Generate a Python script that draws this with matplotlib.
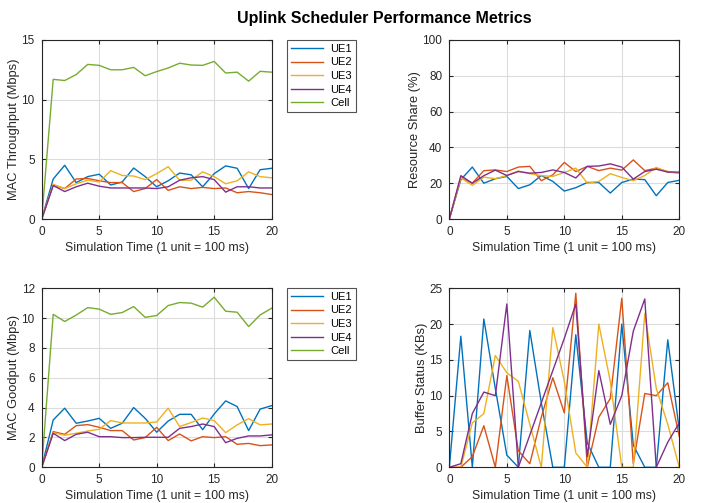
import matplotlib.pyplot as plt

plt.rcParams['font.family'] = ['Liberation Sans', 'DejaVu Sans']

# x axis: simulation time steps
t = list(range(21))
ue_names = ['UE1', 'UE2', 'UE3', 'UE4', 'Cell']
colors = ['#0072BD', '#D95319', '#EDB120', '#7E2F8E', '#77AC30']

# MAC throughput (Mbps)
thr_ue1 = [0, 3.35, 4.5, 3.05, 3.55, 3.75, 2.85, 3.1, 4.27, 3.55, 2.7, 3.2, 3.85, 3.7, 2.7, 3.8, 4.45, 4.25, 2.55, 4.13, 4.25]
thr_ue2 = [0, 2.85, 2.55, 3.35, 3.4, 3.2, 3.05, 3.05, 2.3, 2.55, 3.3, 2.4, 2.7, 2.55, 2.65, 2.55, 2.6, 2.2, 2.3, 2.2, 2.05]
thr_ue3 = [0, 2.9, 2.55, 2.95, 3.25, 3.1, 4.05, 3.65, 3.6, 3.3, 3.8, 4.38, 3.25, 3.25, 3.95, 3.55, 2.95, 3.2, 3.95, 3.55, 3.45]
thr_ue4 = [0, 2.8, 2.3, 2.7, 3.0, 2.75, 2.6, 2.6, 2.6, 2.6, 2.55, 2.7, 3.25, 3.45, 3.55, 3.3, 2.25, 2.7, 2.7, 2.6, 2.6]
thr_cell = [0, 11.7, 11.6, 12.1, 12.95, 12.87, 12.5, 12.5, 12.7, 12.0, 12.35, 12.65, 13.05, 12.9, 12.87, 13.2, 12.23, 12.3, 11.55, 12.37, 12.3]

# resource share (%)
rs_ue1 = [0, 22, 29, 20, 22.5, 23.8, 17, 19.1, 24.3, 21, 15.6, 17.5, 20.4, 20.4, 14.5, 20.4, 22.3, 22, 13, 20.4, 21.6]
rs_ue2 = [0, 23, 20, 27, 27.4, 26.5, 29, 29.4, 21.4, 24.7, 31.6, 26.5, 29.4, 27, 28.4, 27.3, 33, 27, 28.4, 26.5, 25.6]
rs_ue3 = [0, 23, 18.8, 23.4, 22.5, 24.3, 26.8, 25.3, 24.2, 23.8, 26, 28.4, 20, 21, 25.3, 23.2, 21.4, 24.3, 28.8, 26.2, 25.6]
rs_ue4 = [0, 24.2, 20, 24.2, 27.3, 24.3, 26.5, 25.6, 26, 27.4, 26, 22.9, 29.4, 29.6, 30.8, 29, 22.3, 26.5, 27.8, 26.2, 26.2]

# MAC goodput (Mbps)
gp_ue1 = [0, 3.17, 3.96, 2.95, 3.1, 3.28, 2.61, 2.95, 4.0, 3.28, 2.35, 3.1, 3.55, 3.55, 2.52, 3.57, 4.45, 4.07, 2.46, 3.9, 4.13]
gp_ue2 = [0, 2.39, 2.21, 2.79, 2.86, 2.68, 2.46, 2.46, 1.83, 1.99, 2.68, 1.79, 2.23, 1.77, 2.05, 1.99, 2.05, 1.54, 1.6, 1.45, 1.5]
gp_ue3 = [0, 2.32, 2.15, 2.28, 2.43, 2.55, 3.13, 2.97, 2.97, 2.97, 3.04, 3.96, 2.73, 3.0, 3.3, 3.13, 2.32, 2.84, 3.26, 2.84, 2.9]
gp_ue4 = [0, 2.28, 1.79, 2.21, 2.35, 2.05, 2.05, 1.99, 1.99, 2.01, 2.01, 2.01, 2.61, 2.73, 2.9, 2.73, 1.65, 1.94, 2.1, 2.1, 2.17]
gp_cell = [0, 10.25, 9.77, 10.2, 10.7, 10.6, 10.25, 10.37, 10.77, 10.05, 10.17, 10.84, 11.04, 11.0, 10.73, 11.4, 10.46, 10.39, 9.43, 10.21, 10.66]

# buffer status (KBs)
buf_ue1 = [0, 18.3, 0, 20.7, 11, 1.7, 0, 19.1, 9, 0, 0, 18.5, 3.4, 0, 0, 20, 3.1, 0, 0, 17.8, 5.2]
buf_ue2 = [0, 0, 1.5, 5.8, 0, 12.8, 2.3, 0.5, 7, 12.5, 7.6, 24.3, 0, 7, 9.6, 23.6, 0.5, 10.3, 10, 11.8, 4.3]
buf_ue3 = [0, 0, 6.2, 7.5, 15.6, 13.2, 12, 6, 0, 19.5, 12, 2, 0, 20, 12, 0, 0, 21.5, 11, 6, 0]
buf_ue4 = [0, 0.5, 7.5, 10.5, 10, 22.8, 0, 4.5, 9, 13.5, 18, 22.8, 1.5, 13.5, 6, 10, 19, 23.5, 0, 3.5, 6.2]

xlabel = 'Simulation Time (1 unit = 100 ms)'


def style_axes(ax, ylim, yticks, ylabel):
    ax.set_xlim(0, 20)
    ax.set_xticks([0, 5, 10, 15, 20])
    ax.set_ylim(*ylim)
    ax.set_yticks(yticks)
    ax.grid(True, color='#dcdcdc', linewidth=0.8)
    ax.set_axisbelow(True)
    ax.tick_params(direction='in', length=3, labelsize=8.5, colors='#262626',
                   top=True, right=True, pad=5)
    for s in ax.spines.values():
        s.set_color('#262626')
        s.set_linewidth(0.8)
    ax.set_xlabel(xlabel, fontsize=8.8, color='#262626', labelpad=3)
    ax.set_ylabel(ylabel, fontsize=9.3, color='#262626', labelpad=1)


fig = plt.figure(figsize=(7.01, 5.03), dpi=100)
fig.suptitle('Uplink Scheduler Performance Metrics', fontsize=11.5, fontweight='bold',
             x=0.548, y=0.978)

w, h = 0.328, 0.356
ax1 = fig.add_axes([0.0595, 0.5646, w, h])
ax2 = fig.add_axes([0.641, 0.5646, w, h])
ax3 = fig.add_axes([0.0595, 0.071, w, h])
ax4 = fig.add_axes([0.641, 0.071, w, h])

for y, c, n in zip([thr_ue1, thr_ue2, thr_ue3, thr_ue4, thr_cell], colors, ue_names):
    ax1.plot(t, y, color=c, linewidth=1.0, label=n)
style_axes(ax1, (0, 15), [0, 5, 10, 15], 'MAC Throughput (Mbps)')

for y, c in zip([rs_ue1, rs_ue2, rs_ue3, rs_ue4], colors):
    ax2.plot(t, y, color=c, linewidth=1.0)
style_axes(ax2, (0, 100), [0, 20, 40, 60, 80, 100], 'Resource Share (%)')

for y, c, n in zip([gp_ue1, gp_ue2, gp_ue3, gp_ue4, gp_cell], colors, ue_names):
    ax3.plot(t, y, color=c, linewidth=1.0, label=n)
style_axes(ax3, (0, 12), [0, 2, 4, 6, 8, 10, 12], 'MAC Goodput (Mbps)')

for y, c in zip([buf_ue1, buf_ue2, buf_ue3, buf_ue4], colors):
    ax4.plot(t, y, color=c, linewidth=1.0)
style_axes(ax4, (0, 25), [0, 5, 10, 15, 20, 25], 'Buffer Status (KBs)')

# legends sit outside the left-hand axes, like MATLAB's 'northeastoutside'
for ax, top in [(ax1, 0.9205), (ax3, 0.4274)]:
    leg = ax.legend(loc='upper left', bbox_to_anchor=(0.409, top),
                    bbox_transform=fig.transFigure, fontsize=8, frameon=True,
                    fancybox=False, borderaxespad=0, handlelength=2.9,
                    labelspacing=0.32, borderpad=0.35, handletextpad=0.7)
    leg.get_frame().set_edgecolor('#262626')
    leg.get_frame().set_linewidth(0.8)

fig.savefig('out.png', dpi=100)
